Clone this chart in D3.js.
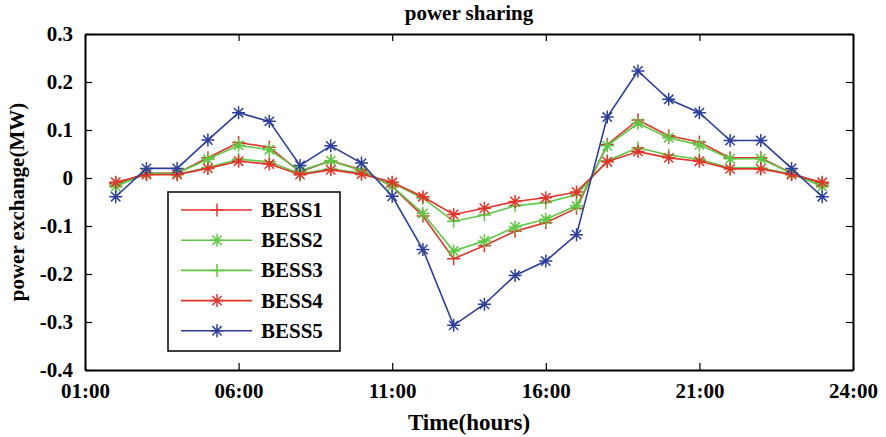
<!DOCTYPE html>
<html>
<head>
<meta charset="utf-8">
<script src="https://cdn.jsdelivr.net/npm/d3@7"></script>
<style>
  body { margin: 0; background: #fff; }
  text { font-family: "Liberation Serif", "Times New Roman", serif; font-weight: bold; fill: #000; }
</style>
</head>
<body>
<div id="chart-area"></div>
<script>
// SVG Size
var width = 886,
	height = 437;
var margin = {top: 34, right: 33, bottom: 67, left: 85};

// hour index of each sample (axis runs 1..26, last tick labelled 24:00)
var hours = [2, 3, 4, 5, 6, 7, 8, 9, 10, 11, 12, 13, 14, 15, 16, 17, 18, 19, 20, 21, 22, 23, 24, 25];

var bess1 = [-0.012, 0.010, 0.010, 0.042, 0.074, 0.064, 0.013, 0.036, 0.017, -0.018, -0.079, -0.168,
	-0.141, -0.111, -0.093, -0.063, 0.070, 0.121, 0.088, 0.075, 0.042, 0.042, 0.010, -0.012];
var bess2 = [-0.018, 0.010, 0.010, 0.039, 0.068, 0.059, 0.015, 0.036, 0.015, -0.017, -0.074, -0.152,
	-0.131, -0.102, -0.086, -0.058, 0.067, 0.114, 0.084, 0.069, 0.040, 0.040, 0.010, -0.018];
var bess3 = [-0.015, 0.008, 0.008, 0.022, 0.039, 0.034, 0.009, 0.019, 0.010, -0.010, -0.042, -0.090,
	-0.077, -0.058, -0.051, -0.035, 0.036, 0.063, 0.048, 0.039, 0.021, 0.021, 0.008, -0.015];
var bess4 = [-0.009, 0.007, 0.007, 0.020, 0.035, 0.029, 0.007, 0.017, 0.008, -0.009, -0.039, -0.076,
	-0.063, -0.049, -0.041, -0.029, 0.034, 0.055, 0.042, 0.035, 0.019, 0.019, 0.007, -0.009];
var bess5 = [-0.039, 0.020, 0.020, 0.079, 0.136, 0.118, 0.026, 0.067, 0.031, -0.038, -0.149, -0.307,
	-0.263, -0.203, -0.173, -0.118, 0.127, 0.223, 0.164, 0.136, 0.078, 0.078, 0.020, -0.039];

var seriesNames = ["BESS1", "BESS2", "BESS3", "BESS4", "BESS5"];
var seriesValues = [bess1, bess2, bess3, bess4, bess5];
var seriesColors = ["#e3342a", "#5cc843", "#5cc843", "#e3342a", "#2c3f9e"];
var seriesMarkers = ["plus", "star", "plus", "star", "star"];

var xTicks = [1, 6, 11, 16, 21, 26];
var xTickLabels = ["01:00", "06:00", "11:00", "16:00", "21:00", "24:00"];
var yTicks = [-0.4, -0.3, -0.2, -0.1, 0, 0.1, 0.2, 0.3];
var yTickLabels = ["-0.4", "-0.3", "-0.2", "-0.1", "0", "0.1", "0.2", "0.3"];

var svg = d3.select("#chart-area")
	.append("svg")
	.attr("width", width)
	.attr("height", height);

var x = d3.scaleLinear().domain([1, 26]).range([margin.left, width - margin.right]);
var y = d3.scaleLinear().domain([-0.4, 0.3]).range([height - margin.bottom, margin.top]);

// marker paths
function markerPath(type, r) {
	if (type === "plus") {
		return "M" + (-r) + ",0H" + r + "M0," + (-r) + "V" + r;
	}
	var d = r * 0.72;
	return "M" + (-r) + ",0H" + r + "M0," + (-r) + "V" + r +
		"M" + (-d) + "," + (-d) + "L" + d + "," + d +
		"M" + (-d) + "," + d + "L" + d + "," + (-d);
}

var line = d3.line()
	.x(function(d) { return x(d.h); })
	.y(function(d) { return y(d.v); });

seriesValues.forEach(function(vals, i) {
	var pts = hours.map(function(h, j) { return {h: h, v: vals[j]}; });
	var g = svg.append("g");
	g.append("path")
		.datum(pts)
		.attr("d", line)
		.attr("fill", "none")
		.attr("stroke", seriesColors[i])
		.attr("stroke-width", 1.6);
	g.selectAll(".mk")
		.data(pts)
		.enter()
		.append("path")
		.attr("transform", function(d) { return "translate(" + x(d.h) + "," + y(d.v) + ")"; })
		.attr("d", markerPath(seriesMarkers[i], 6.5))
		.attr("fill", "none")
		.attr("stroke", seriesColors[i])
		.attr("stroke-width", 1.5);
});

// axes (ticks inside, box all round)
var xAxis = d3.axisBottom(x).tickValues(xTicks)
	.tickFormat(function(d, i) { return xTickLabels[i]; })
	.tickSizeInner(-7).tickSizeOuter(0).tickPadding(13);
var xAxisTop = d3.axisTop(x).tickValues(xTicks).tickFormat("").tickSizeInner(-7).tickSizeOuter(0);
var yAxis = d3.axisLeft(y).tickValues(yTicks)
	.tickFormat(function(d, i) { return yTickLabels[i]; })
	.tickSizeInner(-7).tickSizeOuter(0).tickPadding(12);
var yAxisRight = d3.axisRight(y).tickValues(yTicks).tickFormat("").tickSizeInner(-7).tickSizeOuter(0);

var axes = [
	svg.append("g").attr("transform", "translate(0," + (height - margin.bottom) + ")").call(xAxis),
	svg.append("g").attr("transform", "translate(0," + margin.top + ")").call(xAxisTop),
	svg.append("g").attr("transform", "translate(" + margin.left + ",0)").call(yAxis),
	svg.append("g").attr("transform", "translate(" + (width - margin.right) + ",0)").call(yAxisRight)
];
axes.forEach(function(a) {
	a.select(".domain").attr("stroke", "#000").attr("stroke-width", 2);
	a.selectAll(".tick line").attr("stroke", "#000").attr("stroke-width", 1.2);
	a.selectAll(".tick text").style("font-size", "21px").attr("fill", "#000")
		.style("font-family", "'Liberation Serif', serif").style("font-weight", "bold");
});

// title and axis labels
svg.append("text")
	.attr("x", (margin.left + width - margin.right) / 2)
	.attr("y", 20)
	.attr("text-anchor", "middle")
	.style("font-size", "21px")
	.text("power sharing");

svg.append("text")
	.attr("x", (margin.left + width - margin.right) / 2)
	.attr("y", 430)
	.attr("text-anchor", "middle")
	.style("font-size", "23px")
	.text("Time(hours)");

svg.append("text")
	.attr("transform", "translate(24," + ((margin.top + height - margin.bottom) / 2) + ") rotate(-90)")
	.attr("text-anchor", "middle")
	.style("font-size", "21px")
	.text("power exchange(MW)");

// legend
var legend = svg.append("g").attr("transform", "translate(168,192)");
legend.append("rect")
	.attr("width", 172)
	.attr("height", 159)
	.attr("fill", "#fff")
	.attr("stroke", "#000")
	.attr("stroke-width", 1.5);
seriesNames.forEach(function(name, i) {
	var row = legend.append("g").attr("transform", "translate(0," + (18 + i * 30.2) + ")");
	row.append("line")
		.attr("x1", 13).attr("x2", 84)
		.attr("stroke", seriesColors[i])
		.attr("stroke-width", 1.6);
	row.append("path")
		.attr("transform", "translate(49,0)")
		.attr("d", markerPath(seriesMarkers[i], 6.5))
		.attr("fill", "none")
		.attr("stroke", seriesColors[i])
		.attr("stroke-width", 1.5);
	row.append("text")
		.attr("x", 93)
		.attr("y", 7)
		.style("font-size", "21px")
		.text(name);
});
</script>
</body>
</html>
